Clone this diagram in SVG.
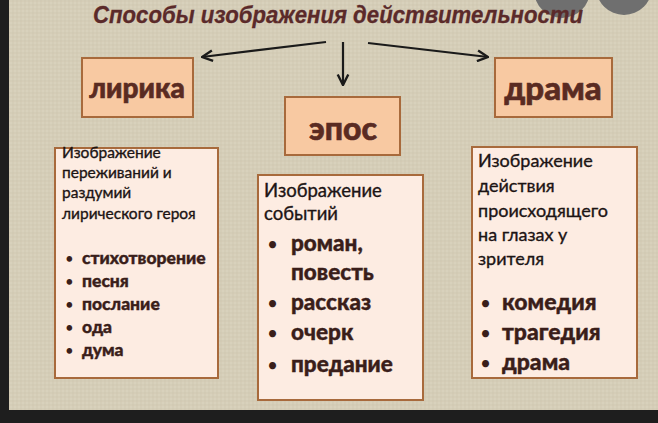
<svg xmlns="http://www.w3.org/2000/svg" width="658" height="423" viewBox="0 0 658 423">
<style>
.title{font-family:"Liberation Sans",Arial,sans-serif;font-weight:bold;font-style:italic;font-size:24px;fill:#5b2a2a;stroke:#5b2a2a;stroke-width:0.3}
.head{font-family:Lato,"Liberation Sans",sans-serif;font-weight:900;fill:#5a2b22;text-anchor:middle;stroke:#5a2b22;stroke-width:0.6}
.hbox{fill:#f8c9a2;stroke:#a86a3c;stroke-width:2}
.tbox{fill:#fdece2;stroke:#a86a3c;stroke-width:2}
.desc{font-family:Lato,"Liberation Sans",sans-serif;fill:#1c1414;stroke:#1c1414;stroke-width:0.35}
.item{font-family:Lato,"Liberation Sans",sans-serif;font-weight:900;fill:#3a1e1a;stroke:#3a1e1a;stroke-width:0.4}
.bul{font-family:Lato,"Liberation Sans",sans-serif;fill:#3a1e1a}
.arrow{stroke:#1a1a1a;stroke-width:2.2;fill:none;marker-end:url(#ah)}
</style>
<defs>
<marker id="ah" viewBox="0 0 10 10" refX="9" refY="5" markerWidth="6" markerHeight="6" orient="auto" markerUnits="strokeWidth">
<path d="M1,1 L9,5 L1,9" fill="none" stroke="#1a1a1a" stroke-width="1.8"/>
</marker>
<pattern id="linen" width="4" height="4" patternUnits="userSpaceOnUse">
<rect width="4" height="4" fill="#d8d1bc"/>
<path d="M0,1 H4 M1,0 V4" stroke="#cdc5ae" stroke-width="0.7"/>
</pattern>
</defs>
<rect width="658" height="423" fill="url(#linen)"/>
<rect x="0" y="0" width="9" height="423" fill="#1e1e1e"/>
<rect x="0" y="410" width="658" height="13" fill="#1e1e1e"/>
<circle cx="562" cy="-10" r="28" fill="#6f6f6f"/>
<circle cx="624" cy="-13" r="28" fill="#6f6f6f"/>
<g id="title"><text class="title" x="93" y="23" textLength="490" lengthAdjust="spacingAndGlyphs">Способы изображения действительности</text></g>
<g id="connectors">
<line class="arrow" x1="326" y1="42" x2="202" y2="57"/>
<line class="arrow" x1="343" y1="42" x2="343" y2="85"/>
<line class="arrow" x1="368" y1="43" x2="488" y2="57"/>
</g>
<g id="lirika"><rect class="hbox" x="82" y="58" width="111" height="59"/><text class="head" x="137" y="98" font-size="28">лирика</text></g>
<g id="epos"><rect class="hbox" x="285" y="97" width="115" height="58"/><text class="head" x="343" y="140" font-size="32">эпос</text></g>
<g id="drama"><rect class="hbox" x="495" y="58" width="117" height="59"/><text class="head" x="553" y="100" font-size="33">драма</text></g>
<g id="lirika-desc"><rect class="tbox" x="55" y="148" width="163" height="230"/>
<g class="desc" font-size="15.5"><text x="62" y="158">Изображение</text><text x="62" y="178">переживаний и</text><text x="62" y="198">раздумий</text><text x="62" y="219">лирического героя</text></g>
<g class="bul" font-size="15"><text x="65" y="264">•</text><text x="65" y="287">•</text><text x="65" y="310">•</text><text x="65" y="333">•</text><text x="65" y="356">•</text></g>
<g class="item" font-size="17.5"><text x="82" y="264">стихотворение</text><text x="82" y="287">песня</text><text x="82" y="310">послание</text><text x="82" y="333">ода</text><text x="82" y="356">дума</text></g>
</g>
<g id="epos-desc"><rect class="tbox" x="258" y="175" width="165" height="225"/>
<g class="desc" font-size="18.5"><text x="264" y="197">Изображение</text><text x="264" y="220">событий</text></g>
<g class="bul" font-size="19"><text x="267" y="251">•</text><text x="267" y="310">•</text><text x="267" y="340">•</text><text x="267" y="372">•</text></g>
<g class="item" font-size="22.5"><text x="291" y="251">роман,</text><text x="291" y="280">повесть</text><text x="291" y="310">рассказ</text><text x="291" y="340">очерк</text><text x="291" y="372">предание</text></g>
</g>
<g id="drama-desc"><rect class="tbox" x="472" y="147" width="165" height="231"/>
<g class="desc" font-size="18"><text x="478" y="167">Изображение</text><text x="478" y="192">действия</text><text x="478" y="217">происходящего</text><text x="478" y="241">на глазах у</text><text x="478" y="265">зрителя</text></g>
<g class="bul" font-size="19"><text x="480" y="310">•</text><text x="480" y="340">•</text><text x="480" y="370">•</text></g>
<g class="item" font-size="23"><text x="502" y="310">комедия</text><text x="502" y="340">трагедия</text><text x="502" y="370">драма</text></g>
</g>
</svg>
